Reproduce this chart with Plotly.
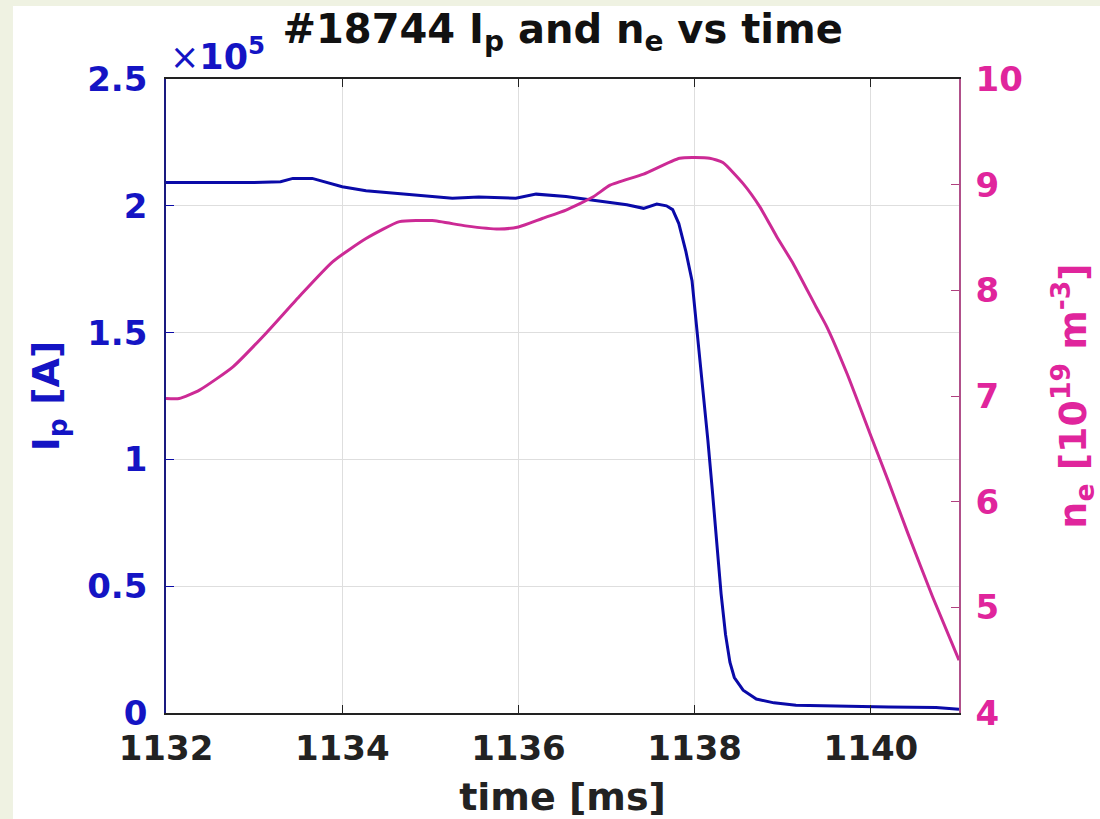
import plotly.graph_objects as go

# Plasma current Ip (units of 1e5 A)
t_ip = [1132.0, 1132.5, 1133.0, 1133.3, 1133.44, 1133.66, 1133.8, 1134.0, 1134.27, 1134.72,
        1135.25, 1135.55, 1135.97, 1136.2, 1136.54, 1136.85, 1137.23, 1137.42, 1137.57,
        1137.68, 1137.75, 1137.82, 1137.9, 1137.97, 1138.02, 1138.08, 1138.15, 1138.2,
        1138.25, 1138.3, 1138.35, 1138.4, 1138.45, 1138.55, 1138.7, 1138.9, 1139.15,
        1139.6, 1140.2, 1140.74, 1141.0]
ip = [2.092, 2.092, 2.092, 2.095, 2.108, 2.108, 2.095, 2.075, 2.059, 2.046,
      2.030, 2.035, 2.030, 2.046, 2.037, 2.022, 2.004, 1.990, 2.007,
      2.000, 1.985, 1.930, 1.820, 1.705, 1.535, 1.340, 1.075, 0.880,
      0.660, 0.470, 0.310, 0.200, 0.140, 0.090, 0.055, 0.040, 0.031,
      0.027, 0.024, 0.022, 0.015]

# Line-averaged electron density ne (units of 1e19 m^-3)
t_ne = [1132.0, 1132.15, 1132.38, 1132.76, 1133.13, 1133.51, 1133.89, 1134.27, 1134.65,
        1135.02, 1135.4, 1135.78, 1136.0, 1136.27, 1136.54, 1136.85, 1137.04, 1137.42,
        1137.83, 1138.17, 1138.32, 1138.55, 1138.74, 1138.93, 1139.12, 1139.38, 1139.5,
        1139.73, 1140.01, 1140.2, 1140.42, 1140.7, 1141.0]
ne = [6.977, 6.977, 7.056, 7.276, 7.59, 7.94, 8.27, 8.49, 8.65,
      8.66, 8.61, 8.58, 8.60, 8.68, 8.76, 8.885, 8.995, 9.10,
      9.25, 9.25, 9.21, 9.01, 8.79, 8.51, 8.25, 7.84, 7.655,
      7.21, 6.60, 6.19, 5.70, 5.10, 4.50]

x_ticks = [1132, 1134, 1136, 1138, 1140]
y1_ticks = [0, 0.5, 1, 1.5, 2, 2.5]
y1_labels = ["0", "0.5", "1", "1.5", "2", "2.5"]
y2_ticks = [4, 5, 6, 7, 8, 9, 10]

BLUE_LINE = "#0a0aa8"
BLUE_TXT = "#1414c4"
MAG_LINE = "#cc2a95"
MAG_TXT = "#e0259c"
FONT = "DejaVu Sans"
TICK_SIZE = 34
LABEL_SIZE = 38

fig = go.Figure()
fig.add_trace(go.Scatter(x=t_ip, y=ip, mode="lines", line=dict(color=BLUE_LINE, width=3),
                         yaxis="y", showlegend=False))
fig.add_trace(go.Scatter(x=t_ne, y=ne, mode="lines",
                         line=dict(color=MAG_LINE, width=3, shape="spline", smoothing=0.5),
                         yaxis="y2", showlegend=False))

fig.update_layout(
    width=1100, height=819,
    margin=dict(l=166, r=141, t=79, b=106, autoexpand=False),
    paper_bgcolor="#eff2e2",
    plot_bgcolor="white",
    font=dict(family=FONT),
    title=dict(text="#18744 I<sub>p</sub> and n<sub>e</sub> vs time",
               x=0.5115, xanchor="center", y=0.965, yanchor="middle",
               font=dict(size=40, color="#111111", family=FONT, weight="bold")),
    xaxis=dict(range=[1132, 1141], tickvals=x_ticks, ticks="inside", ticklen=8,
               tickcolor="#222222", showline=True, linecolor="#222222", linewidth=1.5,
               mirror="ticks", showgrid=True, gridcolor="#dedede", gridwidth=1, zeroline=False,
               automargin=False,
               tickfont=dict(size=TICK_SIZE, color="#222222", family=FONT, weight="bold"),
               ticklabelstandoff=4,
               title=dict(text="time [ms]", standoff=22,
                          font=dict(size=LABEL_SIZE, color="#222222", family=FONT, weight="bold"))),
    yaxis=dict(range=[0, 2.5], tickvals=y1_ticks, ticktext=y1_labels, ticks="inside",
               ticklen=8, tickcolor=BLUE_LINE, showline=True, linecolor="#1a1a80", linewidth=1.5,
               showgrid=True, gridcolor="#dedede", gridwidth=1, zeroline=False,
               automargin=False,
               tickfont=dict(size=TICK_SIZE, color=BLUE_TXT, family=FONT, weight="bold"),
               ticklabelstandoff=10,
               title=dict(text="I<sub>p</sub> [A]", standoff=16,
                          font=dict(size=LABEL_SIZE, color=BLUE_TXT, family=FONT, weight="bold"))),
    yaxis2=dict(range=[4, 10], tickvals=y2_ticks, ticks="inside", ticklen=8,
                tickcolor="#b0407f", overlaying="y", side="right", showline=True,
                linecolor="#b0508a", linewidth=1.5, showgrid=False, zeroline=False,
                automargin=False,
                tickfont=dict(size=TICK_SIZE, color=MAG_TXT, family=FONT, weight="bold"),
                ticklabelstandoff=8,
                title=dict(text="n<sub>e</sub> [10<sup>19</sup> m<sup>-3</sup>]", standoff=49,
                           font=dict(size=LABEL_SIZE, color=MAG_TXT, family=FONT, weight="bold"))),
    shapes=[dict(type="rect", xref="paper", yref="paper",
                 x0=-0.193, x1=1.4, y0=-0.3, y1=1.115,
                 fillcolor="white", line=dict(width=0), layer="below")],
    annotations=[dict(text="\u00d7<b>10<sup>5</sup></b>", xref="paper", yref="paper",
                      x=0.003, y=1.0, xanchor="left", yanchor="bottom", showarrow=False,
                      font=dict(size=35, color=BLUE_TXT, family=FONT))],
)

fig.write_html("out.html")
